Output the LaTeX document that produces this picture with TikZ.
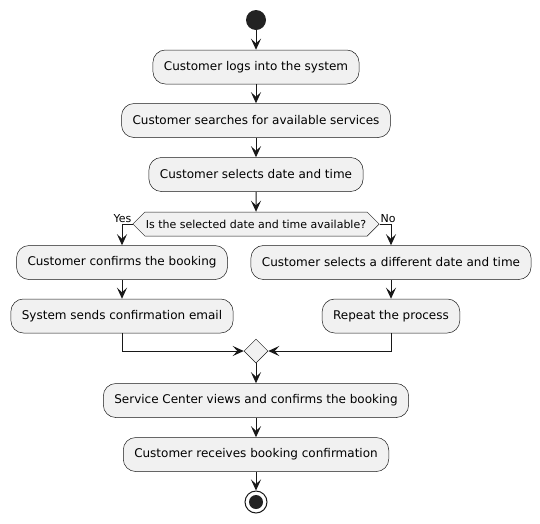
\documentclass[tikz,border=0pt]{standalone}
\usepackage{fontspec}
\setmainfont{DejaVu Sans}
\usetikzlibrary{arrows.meta,shapes.geometric,shapes.symbols}
\usepackage{xcolor}
\definecolor{actfill}{HTML}{F1F1F1}
\definecolor{actline}{HTML}{181818}
\definecolor{dot}{HTML}{222222}

\begin{document}
\begin{tikzpicture}[x=1pt, y=-1pt,
  action/.style={draw=actline, fill=actfill, rounded corners=12.5pt, minimum height=34pt,
    inner xsep=11pt, line width=0.5pt, font=\fontsize{12}{14}\selectfont},
  choice/.style={signal, signal to=east and west, signal pointer angle=90, draw=actline,
    fill=actfill, minimum height=24pt, inner xsep=1pt, inner ysep=0pt, line width=0.5pt,
    font=\fontsize{11}{13}\selectfont},
  merger/.style={diamond, draw=actline, fill=actfill, minimum size=24pt, inner sep=0pt,
    line width=0.5pt},
  guard/.style={font=\fontsize{11}{13}\selectfont, inner sep=1pt},
  flow/.style={->, actline, line width=1pt},
  >={Stealth[length=11pt, width=10pt, inset=4.5pt]}
]
  \useasboundingbox (0,0) rectangle (540,523);

  \node[circle, fill=dot, minimum size=20pt, inner sep=0pt] (start) at (256,20) {};
  \node[action] (login) at (256,67) {Customer logs into the system};
  \node[action] (search) at (256,120.5) {Customer searches for available services};
  \node[action] (select) at (256,174.5) {Customer selects date and time};
  \node[choice] (check) at (256,224) {Is the selected date and time available?};
  \node[guard, anchor=south east] (yes) at (check.west) {Yes};
  \node[guard, anchor=south west] (no) at (check.east) {No};
  \node[action] (confirm) at (122,262.5) {Customer confirms the booking};
  \node[action] (sendmail) at (122,316) {System sends confirmation email};
  \node[action] (other) at (391,262.5) {Customer selects a different date and time};
  \node[action] (repeat) at (391,316) {Repeat the process};
  \node[merger] (merge) at (256,351) {};
  \node[action] (review) at (256,400.5) {Service Center views and confirms the booking};
  \node[action] (receive) at (256,454.5) {Customer receives booking confirmation};
  \node[circle, draw=actline, fill=white, line width=1pt, minimum size=22pt, inner sep=0pt]
    (stop) at (256,502) {};
  \fill[dot] (stop.center) circle (7pt);

  \draw[flow] (start) -- (login);
  \draw[flow] (login) -- (search);
  \draw[flow] (search) -- (select);
  \draw[flow] (select) -- (check);
  \draw[flow] (check.west) -| (confirm);
  \draw[flow] (check.east) -| (other);
  \draw[flow] (confirm) -- (sendmail);
  \draw[flow] (other) -- (repeat);
  \draw[flow] (sendmail.south) |- (merge.west);
  \draw[flow] (repeat.south) |- (merge.east);
  \draw[flow] (merge) -- (review);
  \draw[flow] (review) -- (receive);
  \draw[flow] (receive) -- (stop);
\end{tikzpicture}
\end{document}
